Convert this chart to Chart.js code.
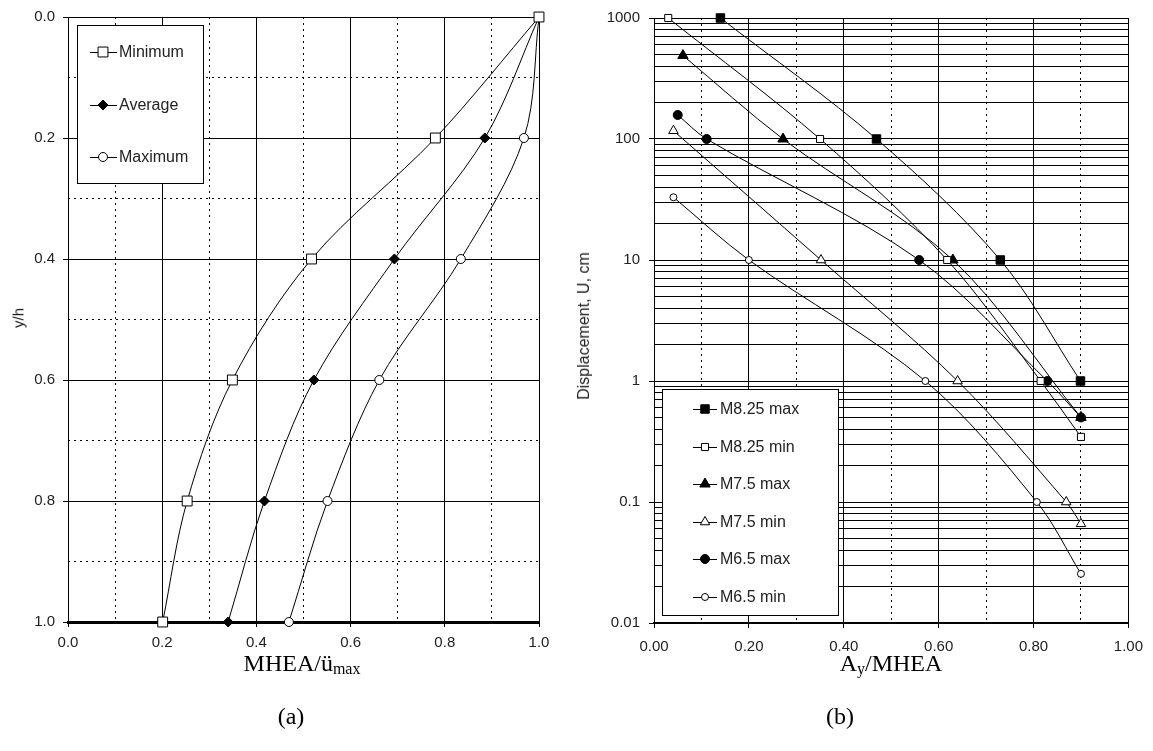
<!DOCTYPE html>
<html>
<head>
<meta charset="utf-8">
<script src="https://cdn.jsdelivr.net/npm/chart.js@4.4.0/dist/chart.umd.min.js"></script>
<style>
  body { margin: 0; background: #fff; width: 1153px; height: 751px; position: relative; overflow: hidden; }
  #wrapA { position: absolute; left: 0; top: 0; width: 560px; height: 660px; }
  #wrapB { position: absolute; left: 560px; top: 0; width: 593px; height: 660px; }
  .xtitle, .caption {
    position: absolute; transform: translateX(-50%); white-space: nowrap;
    font-family: "Liberation Serif", "Times New Roman", serif; font-size: 24px; line-height: 24px; color: #000;
  }
  .xtitle sub { font-size: 16px; vertical-align: -3px; line-height: 0; }
  .ytitle {
    position: absolute; transform: translate(-50%, -50%) rotate(-90deg); white-space: nowrap;
    font-family: Arial, "Liberation Sans", sans-serif; color: #222;
  }
</style>
</head>
<body>
<div id="wrapA"><canvas id="chartA"></canvas></div>
<div id="wrapB"><canvas id="chartB"></canvas></div>

<div class="ytitle" style="left:18px; top:318px; font-size:15px;">y/h</div>
<div class="ytitle" style="left:584px; top:326px; font-size:16px;">Displacement, U, cm</div>
<div class="xtitle" style="left:302px; top:651px;">MHEA/ü<sub>max</sub></div>
<div class="xtitle" style="left:891px; top:651px;">A<sub>y</sub>/MHEA</div>
<div class="caption" style="left:291px; top:704px;">(a)</div>
<div class="caption" style="left:840px; top:704px;">(b)</div>

<script>
// ---- (a) MHEA / u_max along depth ----
const depthA = [0.0, 0.2, 0.4, 0.6, 0.8, 1.0];
const minimumA = [1.0, 0.78, 0.517, 0.349, 0.253, 0.201];
const averageA = [1.0, 0.885, 0.693, 0.522, 0.417, 0.340];
const maximumA = [1.0, 0.968, 0.834, 0.661, 0.551, 0.469];
const majorTicksA = [0, 0.2, 0.4, 0.6, 0.8, 1.0];
const minorTicksA = [0.1, 0.3, 0.5, 0.7, 0.9];

// ---- (b) displacement vs Ay/MHEA ----
const m825maxX = [0.14, 0.469, 0.73, 0.899];
const m825maxY = [1000, 100, 10, 1];
const m825minX = [0.03, 0.35, 0.618, 0.815, 0.9];
const m825minY = [1000, 100, 10, 1, 0.345];
const m75maxX = [0.061, 0.272, 0.63, 0.9];
const m75maxY = [490, 100, 10, 0.5];
const m75minX = [0.041, 0.352, 0.64, 0.869, 0.9];
const m75minY = [117, 10, 1, 0.1, 0.066];
const m65maxX = [0.05, 0.111, 0.559, 0.829, 0.9];
const m65maxY = [158, 100, 10, 1, 0.5];
const m65minX = [0.041, 0.2, 0.572, 0.807, 0.9];
const m65minY = [33, 10, 1, 0.1, 0.0255];
const decadesB = [0.01, 0.1, 1, 10, 100, 1000];

Chart.defaults.font.family = 'Arial, "Liberation Sans", sans-serif';
Chart.defaults.color = '#222';

const pts = (xs, ys) => xs.map((x, i) => ({ x, y: ys[i] }));
const isDecade = v => Math.abs(Math.log10(v) - Math.round(Math.log10(v))) < 1e-9;

function series(label, data, style, radius, filled) {
  return {
    label, data,
    showLine: true,
    borderColor: '#000',
    borderWidth: 1,
    tension: 0.33,
    pointStyle: style,
    pointRadius: radius,
    pointHoverRadius: radius,
    pointBorderColor: '#000',
    pointBorderWidth: 1,
    pointBackgroundColor: filled ? '#000' : '#fff',
    clip: false
  };
}

// legend drawn inside the plot, framed box with white background
const boxLegend = {
  id: 'boxLegend',
  afterDraw(chart, args, o) {
    const ctx = chart.ctx;
    ctx.save();
    ctx.fillStyle = '#fff';
    ctx.fillRect(o.left, o.top, o.width, o.height);
    ctx.strokeStyle = '#000';
    ctx.lineWidth = 1;
    ctx.strokeRect(o.left + 0.5, o.top + 0.5, o.width, o.height);
    ctx.font = o.font;
    ctx.textBaseline = 'middle';
    chart.data.datasets.forEach((ds, i) => {
      const y = o.rowY[i];
      ctx.strokeStyle = '#000';
      ctx.lineWidth = 1;
      ctx.beginPath();
      ctx.moveTo(o.lineX0, y + 0.5);
      ctx.lineTo(o.lineX1, y + 0.5);
      ctx.stroke();
      ctx.fillStyle = ds.pointBackgroundColor;
      Chart.helpers.drawPoint(ctx, { pointStyle: ds.pointStyle, radius: ds.pointRadius, rotation: 0, borderWidth: 1 }, o.markerX, y);
      ctx.fillStyle = '#222';
      ctx.fillText(ds.label, o.textX, y + 1);
    });
    ctx.restore();
  }
};

const tickFont = { size: 15 };

// dotted helper axis: only draws grid lines at given positions
function dottedAxis(pos, values, type, extra) {
  return Object.assign({
    type, position: pos, min: 0, max: 1,
    afterBuildTicks: s => { s.ticks = values.map(v => ({ value: v })); },
    afterFit: s => { if (pos === 'left') s.width = 0; else s.height = 0; },
    ticks: { display: false },
    grid: { color: '#000', lineWidth: 1, drawTicks: false },
    border: { display: false, dash: [2, 4] }
  }, extra || {});
}

// ---- chart (a) ----
new Chart(document.getElementById('chartA'), {
  type: 'scatter',
  data: {
    datasets: [
      series('Minimum', pts(minimumA, depthA), 'rect', 7, false),
      series('Average', pts(averageA, depthA), 'rectRot', 5, true),
      series('Maximum', pts(maximumA, depthA), 'circle', 4.5, false)
    ]
  },
  options: {
    responsive: true,
    maintainAspectRatio: false,
    animation: false,
    layout: { padding: { top: 12, right: 21, left: 0, bottom: 0 } },
    plugins: {
      legend: { display: false },
      tooltip: { enabled: false },
      boxLegend: {
        left: 77, top: 25, width: 126, height: 158,
        rowY: [52, 105, 157], lineX0: 90, lineX1: 117, markerX: 103, textX: 119,
        font: '16px Arial, "Liberation Sans", sans-serif'
      }
    },
    scales: {
      x: {
        type: 'linear', position: 'bottom', min: 0, max: 1,
        afterBuildTicks: s => { s.ticks = majorTicksA.map(v => ({ value: v })); },
        afterFit: s => { s.height = 38; },
        ticks: { font: tickFont, padding: 7, callback: v => v.toFixed(1) },
        grid: { color: '#000', lineWidth: 1, tickLength: 5, tickColor: '#000' },
        border: { color: '#000', width: 3 }
      },
      xd: dottedAxis('top', minorTicksA, 'linear'),
      y: {
        type: 'linear', position: 'left', reverse: true, min: 0, max: 1,
        afterBuildTicks: s => { s.ticks = majorTicksA.map(v => ({ value: v })); },
        afterFit: s => { s.width = 68; },
        ticks: { font: tickFont, padding: 8, callback: v => v.toFixed(1) },
        grid: { color: '#000', lineWidth: 1, tickLength: 5, tickColor: '#000' },
        border: { color: '#000', width: 1 }
      },
      yd: dottedAxis('left', minorTicksA, 'linear', { reverse: true })
    }
  },
  plugins: [boxLegend]
});

// ---- chart (b) ----
new Chart(document.getElementById('chartB'), {
  type: 'scatter',
  data: {
    datasets: [
      series('M8.25 max', pts(m825maxX, m825maxY), 'rect', 6, true),
      series('M8.25 min', pts(m825minX, m825minY), 'rect', 5, false),
      series('M7.5 max', pts(m75maxX, m75maxY), 'triangle', 6, true),
      series('M7.5 min', pts(m75minX, m75minY), 'triangle', 5.5, false),
      series('M6.5 max', pts(m65maxX, m65maxY), 'circle', 4.5, true),
      series('M6.5 min', pts(m65minX, m65minY), 'circle', 3.5, false)
    ]
  },
  options: {
    responsive: true,
    maintainAspectRatio: false,
    animation: false,
    layout: { padding: { top: 16, right: 24, left: 0, bottom: 0 } },
    plugins: {
      legend: { display: false },
      tooltip: { enabled: false },
      boxLegend: {
        left: 102, top: 389, width: 176, height: 226,
        rowY: [409, 447, 484, 522, 559, 597], lineX0: 133, lineX1: 157, markerX: 145, textX: 160,
        font: '16px Arial, "Liberation Sans", sans-serif'
      }
    },
    scales: {
      x: {
        type: 'linear', position: 'bottom', min: 0, max: 1,
        afterBuildTicks: s => { s.ticks = majorTicksA.map(v => ({ value: v })); },
        afterFit: s => { s.height = 37; },
        ticks: { font: tickFont, padding: 10, callback: v => v.toFixed(2) },
        grid: { color: '#000', lineWidth: 1, tickLength: 5, tickColor: '#000' },
        border: { color: '#000', width: 2 }
      },
      xd: dottedAxis('top', minorTicksA, 'linear'),
      y: {
        type: 'logarithmic', position: 'left', min: 0.01, max: 1000,
        afterBuildTicks: s => {
          const t = [];
          decadesB.forEach((d, i) => {
            if (i === decadesB.length - 1) { t.push({ value: d }); return; }
            for (let m = 1; m < 10; m++) t.push({ value: +(m * d).toPrecision(3) });
          });
          s.ticks = t;
        },
        afterFit: s => { s.width = 94; },
        ticks: {
          font: tickFont, padding: 9, autoSkip: false,
          callback: v => isDecade(v) ? String(v) : ''
        },
        grid: {
          color: '#000', lineWidth: 1, tickLength: 5,
          tickColor: c => (c.tick && isDecade(c.tick.value)) ? '#000' : 'rgba(0,0,0,0)'
        },
        border: { color: '#000', width: 1 }
      }
    }
  },
  plugins: [boxLegend]
});
</script>
</body>
</html>
